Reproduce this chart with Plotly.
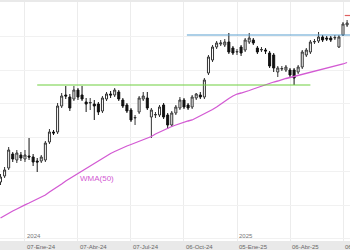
import plotly.graph_objects as go
import pandas as pd

# Weekly candles, first week 2023-11-26 (Sunday), one per week
first_week = "2023-11-26"
opens = [56, 62, 70, 84, 78, 83, 79, 82, 81, 77, 77, 78, 96, 106, 106, 132, 143, 141, 139, 148,
         143, 136, 135, 134, 134, 127, 139, 144, 143, 146, 138, 133, 128, 120, 126, 139, 140, 121,
         123, 123, 133, 123, 113, 125, 130, 138, 133, 131, 140, 143, 141, 165, 178, 191, 194, 193,
         196, 190, 186, 191, 188, 196, 198, 190, 188, 188, 185, 183, 166, 169, 168, 168, 168, 166,
         171, 183, 186, 196, 197, 201, 200, 200, 200, 191, 203, 213]
highs = [64, 71, 91, 86, 88, 86, 88, 100, 84, 80, 83, 97, 109, 108, 135, 145, 152, 144, 152, 150,
         152, 140, 140, 138, 136, 142, 146, 147, 150, 148, 140, 135, 130, 123, 142, 146, 146, 130,
         126, 133, 135, 125, 127, 133, 141, 140, 135, 143, 145, 146, 160, 183, 193, 197, 198, 199,
         205, 192, 189, 193, 200, 205, 200, 192, 191, 190, 187, 185, 172, 172, 173, 170, 170, 173,
         188, 190, 198, 199, 206, 203, 202, 202, 203, 203, 216, 218]
lows = [53, 60, 68, 76, 75, 77, 76, 78, 72, 66, 75, 76, 94, 103, 104, 130, 139, 127, 137, 138,
        137, 126, 128, 118, 123, 125, 137, 140, 141, 137, 130, 125, 116, 113, 124, 137, 128, 100,
        120, 121, 119, 109, 111, 123, 128, 129, 128, 129, 138, 139, 139, 163, 176, 189, 192, 191,
        184, 183, 183, 182, 186, 194, 193, 184, 186, 184, 170, 166, 161, 167, 166, 161, 153, 164,
        169, 181, 184, 194, 195, 196, 197, 196, 198, 190, 202, 211]
closes = [61, 68, 88, 79, 85, 80, 83, 81, 76, 76, 81, 95, 106, 105, 132, 142, 142, 130, 148, 141,
          139, 134, 135.5, 132, 126, 140, 144, 143, 148, 139, 132, 127, 118, 120.5, 140, 142, 130, 128,
          123.5, 131, 121, 113, 125, 131, 138, 131, 130, 141, 144, 141, 158, 181, 191, 195, 195, 196,
          186, 185, 186.5, 185, 198, 200, 195, 186, 188.5, 187, 172, 170, 170, 169.5, 171, 163, 160, 171,
          186, 188, 196, 196.5, 201, 198, 199, 198, 200.5, 201, 214, 215]
wma50 = [20, 22.5, 25, 27, 29, 31.4, 33.2, 35, 37, 38.5, 40.5, 43, 46, 48.5, 51.5, 54, 57, 59.5,
         62, 65, 67, 69.5, 72, 74.5, 77, 79.5, 82, 84.5, 86.5, 88.5, 90, 92, 93.5, 95, 96.5, 98,
         99.5, 101.5, 104, 106, 108, 110, 111.5, 113, 114.5, 115.5, 117, 118, 120, 122, 124.5,
         126.5, 128.5, 131, 134, 136.5, 139.5, 142, 144, 145, 146, 147.5, 149, 150.5, 152, 153.5,
         155, 156, 157, 158.5, 159.5, 160.5, 161.5, 162.5, 163.5, 164.5, 165.5, 166.5, 167.5, 169,
         170, 171, 172, 173, 174, 175.5]

# Horizontal levels: (value, start date, end date)
support_level = 153
support_span = ["2024-01-28", "2025-05-11"]
resist_level = 203
resist_span = ["2024-10-11", "2025-07-18"]
top_level = 222.5
top_span = ["2025-07-09", "2025-07-18"]

tick_dates = ["2024-01-07", "2024-04-07", "2024-07-07", "2024-10-06",
              "2025-01-05", "2025-04-06", "2025-07-06"]
tick_labels = ["07-Ene-24", "07-Abr-24", "07-Jul-24", "06-Oct-24",
               "05-Ene-25", "06-Abr-25", "06-Jul-25"]
year_dates = ["2024-01-07", "2025-01-05"]
year_labels = ["2024", "2025"]

dates = pd.date_range(first_week, periods=len(opens), freq="7D")

fig = go.Figure()
fig.add_trace(go.Candlestick(
    x=dates, open=opens, high=highs, low=lows, close=closes,
    increasing=dict(fillcolor="white", line=dict(color="#333333", width=1)),
    decreasing=dict(fillcolor="#111111", line=dict(color="#111111", width=1)),
    whiskerwidth=0, showlegend=False, hoverinfo="skip"))
fig.add_trace(go.Scatter(x=dates, y=wma50, mode="lines",
                         line=dict(color="#d35ad3", width=1.3), showlegend=False))
fig.add_trace(go.Scatter(x=support_span, y=[support_level] * 2, mode="lines",
                         line=dict(color="#6fcf3f", width=1.2), showlegend=False))
fig.add_trace(go.Scatter(x=resist_span, y=[resist_level] * 2, mode="lines",
                         line=dict(color="#5a9fd0", width=1.2), showlegend=False))
fig.add_trace(go.Scatter(x=top_span, y=[top_level] * 2, mode="lines",
                         line=dict(color="#e06060", width=1.2), showlegend=False))

annotations = []
for d, t in zip(tick_dates, tick_labels):
    annotations.append(dict(x=d, y=0, xref="x", yref="paper", text=t, showarrow=False,
                            xanchor="left", yanchor="top", yshift=-1,
                            font=dict(size=6, color="#666666", family="Liberation Sans")))
for d, t in zip(year_dates, year_labels):
    annotations.append(dict(x=d, y=0, xref="x", yref="paper", text=t, showarrow=False,
                            xanchor="left", yanchor="bottom", yshift=0,
                            font=dict(size=6, color="#777777", family="Liberation Sans")))
annotations.append(dict(x="2024-05-10", y=60, text="WMA(50)", showarrow=False,
                        font=dict(size=8, color="#d35ad3", family="Liberation Sans")))

fig.update_layout(
    width=350, height=250,
    margin=dict(l=0, r=0, t=2, b=9),
    paper_bgcolor="#e9e9e9", plot_bgcolor="white",
    boxgap=0.3,
    annotations=annotations,
    xaxis=dict(range=["2023-11-25 03:00", "2025-07-18"], tickvals=tick_dates,
               showticklabels=False, showgrid=True, gridcolor="#ececec", gridwidth=1,
               zeroline=False, rangeslider=dict(visible=False), showline=False),
    yaxis=dict(range=[-3, 236], tick0=33, dtick=33.7, showticklabels=False,
               showgrid=True, gridcolor="#f1f1f1", zeroline=False, showline=False),
)
fig.write_html("out.html")
